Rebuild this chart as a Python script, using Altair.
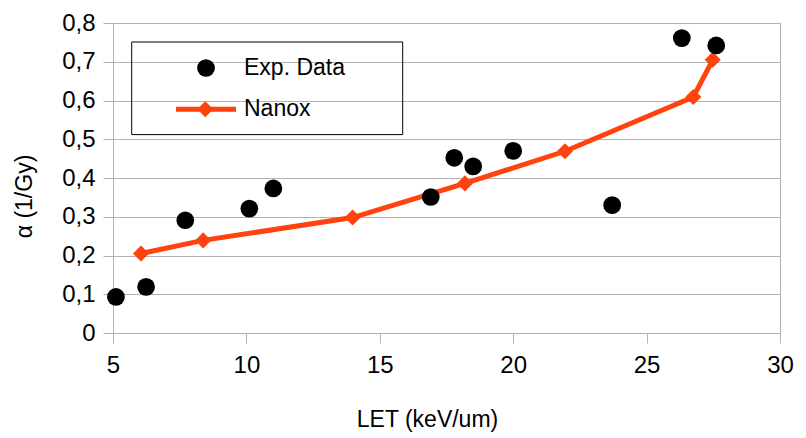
import altair as alt
import pandas as pd

# Measured radiosensitivity (alpha) versus LET
exp_let = [5.11, 6.24, 7.71, 10.11, 11.01, 16.91, 17.79, 18.50, 20.0, 23.71, 26.32, 27.61]
exp_alpha = [0.093, 0.119, 0.291, 0.321, 0.373, 0.351, 0.452, 0.430, 0.470, 0.330, 0.761, 0.742]

# NanOx model predictions
nanox_let = [6.05, 8.38, 13.98, 18.19, 21.94, 26.75, 27.48]
nanox_alpha = [0.205, 0.239, 0.298, 0.386, 0.469, 0.609, 0.705]

x_ticks = [5, 10, 15, 20, 25, 30]
y_ticks = [0, 0.1, 0.2, 0.3, 0.4, 0.5, 0.6, 0.7, 0.8]

FONT = "Liberation Sans"
GRID = "#b3b3b3"
ORANGE = "#ff420e"

exp_df = pd.DataFrame({"let": exp_let, "alpha": exp_alpha})
nanox_df = pd.DataFrame({"let": nanox_let, "alpha": nanox_alpha})

x_scale = alt.Scale(domain=[5, 30], nice=False, zero=False)
y_scale = alt.Scale(domain=[0, 0.8], nice=False)

x_enc = alt.X(
    "let:Q",
    scale=x_scale,
    axis=alt.Axis(
        title="LET (keV/um)",
        values=x_ticks,
        grid=False,
        domain=False,
        tickColor=GRID,
        tickSize=10,
        labelFontSize=24,
        labelPadding=10,
        labelColor="black",
        labelFont=FONT,
        labelFlush=False,
        labelOverlap=False,
        titleFont=FONT,
        titleFontSize=23,
        titleFontWeight="normal",
        titleColor="black",
        titleX=314,
        titleY=93,
        titleAlign="center",
        titleBaseline="alphabetic",
    ),
)
y_enc = alt.Y(
    "alpha:Q",
    scale=y_scale,
    axis=alt.Axis(
        title="α (1/Gy)",
        values=y_ticks,
        tickCount=9,
        grid=True,
        gridColor=GRID,
        domainColor=GRID,
        tickColor=GRID,
        tickSize=10,
        labelExpr="datum.value == 0 ? '0' : replace(format(datum.value, '.1f'), '.', ',')",
        labelFontSize=24,
        labelPadding=8,
        labelColor="black",
        labelFont=FONT,
        labelFlush=False,
        labelOverlap=False,
        titleFont=FONT,
        titleFontSize=23,
        titleFontWeight="normal",
        titleColor="black",
        titleAngle=270,
        titleX=-89,
        titleY=173,
        titleAlign="center",
        titleBaseline="middle",
    ),
)

nanox_line = alt.Chart(nanox_df).mark_line(color=ORANGE, strokeWidth=5).encode(x=x_enc, y=y_enc)
nanox_pts = alt.Chart(nanox_df).mark_point(
    shape="diamond", filled=True, color=ORANGE, size=260, opacity=1
).encode(x=x_enc, y=y_enc)
exp_pts = alt.Chart(exp_df).mark_point(
    shape="circle", filled=True, color="black", size=314, opacity=1
).encode(x=x_enc, y=y_enc)

# Legend box drawn inside the plot area
one = pd.DataFrame({"k": [0]})
leg_box = alt.Chart(one).mark_rect(fill=None, stroke="black", strokeWidth=1).encode(
    x=alt.value(18.7), x2=alt.value(289.7), y=alt.value(19), y2=alt.value(111.6)
)
leg_dot = alt.Chart(one).mark_point(
    shape="circle", filled=True, color="black", size=314, opacity=1
).encode(x=alt.value(93), y=alt.value(45))
leg_line = alt.Chart(one).mark_rule(color=ORANGE, strokeWidth=5).encode(
    x=alt.value(63), x2=alt.value(123), y=alt.value(86.3)
)
leg_diamond = alt.Chart(one).mark_point(
    shape="diamond", filled=True, color=ORANGE, size=260, opacity=1
).encode(x=alt.value(92.3), y=alt.value(86.3))
leg_text1 = alt.Chart(one).mark_text(
    text="Exp. Data", font=FONT, fontSize=23, align="left", baseline="middle", color="black"
).encode(x=alt.value(131), y=alt.value(45))
leg_text2 = alt.Chart(one).mark_text(
    text="Nanox", font=FONT, fontSize=23, align="left", baseline="middle", color="black"
).encode(x=alt.value(131), y=alt.value(85.5))

chart = (
    alt.layer(
        nanox_line, nanox_pts, exp_pts,
        leg_box, leg_line, leg_diamond, leg_dot, leg_text1, leg_text2,
    )
    .properties(
        width=667,
        height=310,
        autosize=alt.AutoSizeParams(type="none"),
        padding={"left": 113, "top": 23, "right": 26, "bottom": 105},
        background="white",
    )
    .configure_view(stroke=GRID, strokeWidth=1)
)

chart.save("out.html", embed_options={"renderer": "svg", "actions": False})
